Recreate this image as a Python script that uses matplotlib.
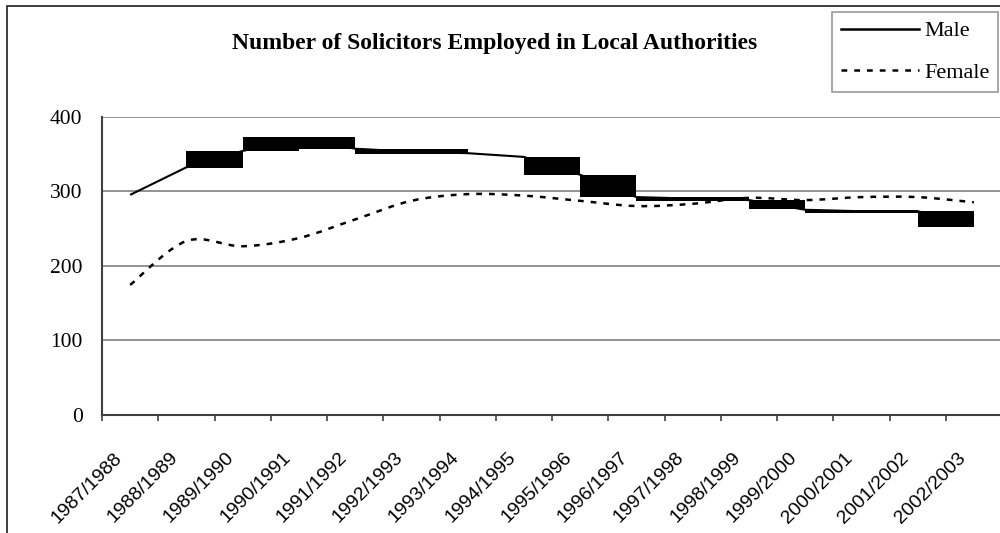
import numpy as np
import matplotlib
matplotlib.use("Agg")
import matplotlib.pyplot as plt
from matplotlib.path import Path
from matplotlib.patches import PathPatch, Rectangle
from matplotlib.lines import Line2D
from matplotlib.transforms import ScaledTranslation

# ---------------- data ----------------
categories = ["1987/1988", "1988/1989", "1989/1990", "1990/1991", "1991/1992",
              "1992/1993", "1993/1994", "1994/1995", "1995/1996", "1996/1997",
              "1997/1998", "1998/1999", "1999/2000", "2000/2001", "2001/2002",
              "2002/2003"]
male = [295, 332, 354, 370, 357, 353, 351, 346, 322, 292, 290, 288, 275, 273, 273, 255]
female = [174, 233, 226, 237, 262, 287, 296, 294, 287, 280, 283, 291, 288, 292, 292, 285]
# black blocks between consecutive years (low / high), None = no block
block_low = [None, 331, 354, 357, 350, 350, None, 322, 292, 287, 287, 276, 271, 271, 252]
block_high = [None, 354, 373, 373, 356, 356, None, 346, 322, 292.5, 292.5, 288, 275, 275, 273]
y_ticks = [0, 100, 200, 300, 400]
title = "Number of Solicitors Employed in Local Authorities"

W, H = 1000, 533
fig = plt.figure(figsize=(W / 100, H / 100), dpi=100)

def fx(px):
    return px / W

def fy(py):
    return 1 - py / H

ax = fig.add_axes([fx(102), fy(414.5), fx(1002) - fx(102), fy(116.7) - fy(414.5)])
n = len(categories)
ax.set_xlim(-0.5, n - 0.5)
ax.set_ylim(0, 400)

serif = "Liberation Serif"
sans = "Liberation Sans"

# gridlines
ax.set_yticks(y_ticks)
ax.yaxis.grid(True, color="#808080", linewidth=1.2)
ax.set_axisbelow(True)
ax.tick_params(axis="y", length=0, pad=14)
for lab in ax.get_yticklabels():
    lab.set_fontfamily(serif)
    lab.set_fontsize(15.5)

for s in ["top", "right"]:
    ax.spines[s].set_visible(False)
ax.spines["left"].set_color("#404040")
ax.spines["left"].set_linewidth(1.5)
ax.spines["bottom"].set_color("#404040")
ax.spines["bottom"].set_linewidth(1.5)

# blocks
seg_x = [i + 0.5 for i in range(n - 1) if block_low[i] is not None]
seg_b = [block_low[i] for i in range(n - 1) if block_low[i] is not None]
seg_h = [block_high[i] - block_low[i] for i in range(n - 1) if block_low[i] is not None]
ax.bar(seg_x, seg_h, bottom=seg_b, width=1.0, color="black", linewidth=0, zorder=3)

# male line
x = np.arange(n)
ax.plot(x, male, color="black", linewidth=1.5, zorder=2.9,
        solid_joinstyle="miter", solid_capstyle="butt")

# female smoothed line (Bezier through data points)
fem = np.column_stack([x, female]).astype(float)
verts = [tuple(fem[0])]
codes = [Path.MOVETO]
for i in range(n - 1):
    p0 = fem[i - 1] if i > 0 else fem[i]
    p1 = fem[i]
    p2 = fem[i + 1]
    p3 = fem[i + 2] if i + 2 < n else fem[i + 1]
    c1 = p1 + (p2 - p0) / 6.0
    c2 = p2 - (p3 - p1) / 6.0
    verts += [tuple(c1), tuple(c2), tuple(p2)]
    codes += [Path.CURVE4] * 3
fem_dash = (0, (2.3, 2.8))
ax.add_patch(PathPatch(Path(verts, codes), fill=False, edgecolor="black",
                       linewidth=1.8, linestyle=fem_dash, zorder=5,
                       capstyle="butt"))

# x ticks
ax.set_xticks(x)
ax.set_xticklabels(categories, rotation=45, ha="right", va="top",
                   rotation_mode="anchor", fontfamily=sans, fontsize=14)
ax.set_xticks(np.arange(n) - 0.5, minor=True)
ax.tick_params(axis="x", which="major", length=0, pad=25)
ax.tick_params(axis="x", which="minor", length=4, width=1.2, color="#404040")
offset = ScaledTranslation(-17 / 100, 0, fig.dpi_scale_trans)
for lab in ax.get_xticklabels():
    lab.set_transform(lab.get_transform() + offset)

# title
fig.text(fx(494.5), fy(49), title, ha="center", va="baseline",
         fontfamily=serif, fontweight="bold", fontsize=17)

# legend
handles = [Line2D([], [], color="black", linewidth=1.8),
           Line2D([], [], color="black", linewidth=1.8, linestyle=fem_dash)]
leg = fig.legend(handles, ["Male", "Female"], loc="upper left",
                 bbox_to_anchor=(fx(832), fy(12)), borderaxespad=0,
                 prop={"family": serif, "size": 16}, frameon=True,
                 fancybox=False, shadow=False, edgecolor="#808080",
                 handlelength=3.5, handletextpad=0.25, borderpad=0.4,
                 labelspacing=0.95)
leg.get_frame().set_linewidth(1.2)

# chart area border
fig.add_artist(Rectangle((fx(7), fy(560)), 1.2, fy(6) - fy(560),
                         transform=fig.transFigure, fill=False,
                         edgecolor="#303030", linewidth=1.3))

fig.savefig("out.png", dpi=100)
